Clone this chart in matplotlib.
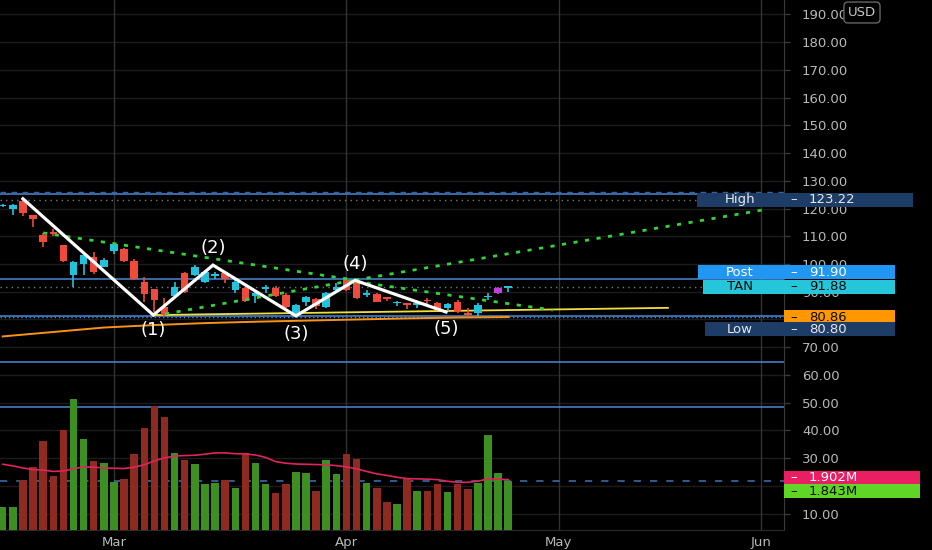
import matplotlib
matplotlib.use("Agg")
import matplotlib.pyplot as plt
from matplotlib.patches import Rectangle
from matplotlib.transforms import IdentityTransform

# ---- data (price in USD, volume in millions) ----
opens = [120.8, 119.7, 122.8, 117.7, 110.5, 111.4, 106.9, 96.0, 100.0, 102.6,
         99.0, 104.8, 105.3, 101.1, 93.6, 91.1, 84.6, 88.5, 96.7, 96.0,
         93.6, 95.8, 96.7, 90.6, 91.3, 88.5, 91.1, 91.3, 88.8, 82.5,
         86.4, 87.3, 84.6, 90.6, 94.2, 93.0, 88.8, 89.1, 87.8, 85.9,
         85.7, 85.4, 86.9, 85.8, 84.0, 86.4, 82.0, 82.2, 88.0, 89.4, 91.5]
closes = [121.2, 121.3, 118.3, 116.1, 108.0, 110.9, 101.1, 100.8, 103.3, 97.0,
          101.4, 107.2, 101.1, 94.6, 89.2, 87.0, 81.6, 91.8, 90.0, 99.0,
          97.2, 96.2, 94.5, 93.6, 86.7, 89.4, 91.4, 88.5, 84.6, 85.2,
          88.0, 84.9, 89.4, 91.8, 90.6, 87.6, 89.4, 86.4, 87.5, 86.2,
          85.4, 85.7, 86.5, 83.4, 85.5, 82.8, 81.8, 85.2, 88.4, 91.3, 91.88]
highs = [121.6, 121.6, 123.22, 117.7, 111.1, 112.6, 106.9, 101.2, 103.6, 104.4,
         102.3, 107.5, 105.7, 101.7, 95.2, 91.1, 87.6, 93.5, 97.2, 99.6,
         97.6, 97.2, 97.0, 94.5, 91.8, 90.6, 92.4, 92.1, 89.7, 85.6,
         88.5, 87.6, 90.0, 93.0, 94.5, 93.6, 90.6, 89.4, 88.2, 86.7,
         86.0, 86.1, 87.6, 86.2, 86.1, 87.0, 84.3, 85.8, 89.4, 91.8, 92.1]
lows = [120.5, 117.7, 117.3, 113.2, 106.2, 110.2, 100.8, 91.6, 96.0, 96.4,
        98.8, 103.6, 100.8, 94.2, 86.4, 82.8, 81.3, 87.8, 89.7, 95.7,
        93.0, 94.5, 93.0, 89.4, 86.4, 86.1, 89.7, 88.2, 84.0, 81.3,
        84.9, 83.7, 84.0, 90.0, 90.4, 87.3, 88.2, 86.2, 86.7, 85.0,
        83.8, 84.3, 85.5, 83.1, 83.1, 82.2, 80.8, 81.4, 87.0, 89.1, 89.8]
ext_hours_bar = 49

volumes = [0.85, 0.86, 1.90, 2.37, 3.37, 2.03, 3.78, 4.94, 3.43, 2.62,
           2.52, 1.80, 1.94, 2.88, 3.85, 4.69, 4.26, 2.89, 2.63, 2.49,
           1.73, 1.77, 1.89, 1.60, 2.91, 2.53, 1.72, 1.39, 1.73, 2.17,
           2.16, 1.49, 2.66, 2.12, 2.86, 2.68, 1.77, 1.58, 1.07, 1.00,
           1.93, 1.47, 1.49, 1.72, 1.42, 1.74, 1.53, 1.78, 3.60, 2.16, 1.843]
vol_ma = [2.48, 2.42, 2.34, 2.28, 2.26, 2.21, 2.23, 2.31, 2.38, 2.37,
          2.34, 2.33, 2.32, 2.37, 2.46, 2.61, 2.72, 2.79, 2.81, 2.82,
          2.86, 2.91, 2.91, 2.88, 2.87, 2.83, 2.74, 2.58, 2.52, 2.49,
          2.48, 2.47, 2.46, 2.43, 2.38, 2.31, 2.21, 2.12, 2.06, 1.99,
          1.94, 1.93, 1.92, 1.90, 1.84, 1.80, 1.80, 1.84, 1.93, 1.92, 1.902]

# long moving average (orange), read every 5 bars
ma_bars = [0, 5, 10, 15, 20, 25, 30, 35, 40, 45, 50]
ma_vals = [73.9, 75.5, 77.1, 78.0, 78.7, 79.2, 79.6, 80.0, 80.4, 80.7, 80.86]

# drawings
wave_bars = [2, 14.9, 20.8, 29.0, 34.85, 43.85]
wave_prices = [123.5, 81.6, 99.6, 81.3, 94.1, 82.7]
wave_labels = ["(1)", "(2)", "(3)", "(4)", "(5)"]
dotted_lines = [
    ([4.0, 34.85], [111.2, 94.2]),
    ([34.85, 75.7], [94.2, 119.8]),
    ([16.05, 34.85], [82.0, 94.2]),
    ([34.85, 54.4], [93.7, 83.4]),
]
yellow_bars = [14.9, 65.8]
yellow_prices = [81.6, 84.2]
blue_levels = [125.2, 94.5, 81.3, 64.7, 48.4]
blue_dashed_level = 126.0

month_bars = [11, 34, 55, 75]
month_names = ["Mar", "Apr", "May", "Jun"]

price_ticks = list(range(10, 200, 10))
hidden_tick_labels = [20, 80]   # covered by the tags in the reference

high_val, post_val, last_val, ma_last, low_val = 123.22, 91.90, 91.88, 80.86, 80.80

# ---- colours ----
BG = "black"
UP, DOWN, EXT = "#22c1dc", "#ef4b3c", "#c23fe0"
VUP, VDOWN = "#3d8f22", "#8e2a20"
GRID = "#1c1c1c"
VGRID = "#333333"
BLUE = "#4a8ad8"
TXT = "#b8b8b8"

fig = plt.figure(figsize=(9.32, 5.5), dpi=100, facecolor=BG)
rect = [0, 20 / 550, 784 / 932, 530 / 550]
ax = fig.add_axes(rect, facecolor=BG)
axv = fig.add_axes(rect, facecolor="none", zorder=ax.get_zorder() + 1)

xlim = (-0.27, 77.28)
ax.set_xlim(*xlim)
ax.set_ylim(4.14, 195.14)
axv.set_xlim(*xlim)
axv.set_ylim(0, 20)

# grid
for p in price_ticks:
    ax.axhline(p, color=GRID, lw=1, zorder=0)
for b in month_bars:
    ax.axvline(b, color=VGRID, lw=1, zorder=0)

# horizontal levels
for lv in blue_levels:
    ax.axhline(lv, color=BLUE, lw=1.1, zorder=1)
ax.axhline(blue_dashed_level, color="#35639c", lw=1, ls=(0, (4, 4)), zorder=1)
ax.axhline(high_val, color="#707a88", lw=1, ls=(0, (1, 3)), zorder=1)
ax.axhline(last_val, color="#707a88", lw=1, ls=(0, (1, 3)), zorder=1)
ax.axhline(ma_last, color=BLUE, lw=1, ls=(0, (1, 2)), zorder=1)

# orange MA and yellow trend line
ax.plot(ma_bars, ma_vals, color="#f7931a", lw=1.4, zorder=2)
ax.plot(yellow_bars, yellow_prices, color="#f2e03a", lw=1.3, zorder=2)

# candles
for i in range(len(opens)):
    o, c, h, l = opens[i], closes[i], highs[i], lows[i]
    col = UP if c >= o else DOWN
    if i == ext_hours_bar:
        col = EXT
    ax.vlines(i, l, h, color=col, lw=1.2, zorder=3)
    bot = min(o, c)
    hgt = max(abs(c - o), 0.45)
    ax.bar(i, hgt, bottom=bot, width=0.74, color=col, zorder=3)

# drawings
for xs, ys in dotted_lines:
    ax.plot(xs, ys, color="#33d13a", lw=2, ls=(0, (1.5, 2.7)), zorder=4)
ax.plot(wave_bars, wave_prices, color="white", lw=2.3, zorder=5,
        solid_joinstyle="miter")
label_dy = [-15, 17, -18, 16, -17]
for k, lab in enumerate(wave_labels):
    ax.annotate(lab, (wave_bars[k + 1], wave_prices[k + 1]),
                xytext=(0, label_dy[k]), textcoords="offset pixels",
                ha="center", va="center", color="white", fontsize=13, zorder=6)

# volume
vcols = [VUP if closes[i] >= opens[i] else VDOWN for i in range(len(volumes))]
axv.bar(range(len(volumes)), volumes, width=0.74, color=vcols, zorder=2)
axv.plot(range(len(vol_ma)), vol_ma, color="#e0245e", lw=1.2, zorder=3)
axv.axhline(volumes[-1], color="#35639c", lw=1.3, ls=(0, (4, 5)), zorder=1)

# axes styling
for a in (ax, axv):
    for s in a.spines.values():
        s.set_visible(False)
axv.set_xticks([])
axv.set_yticks([])
ax.spines["right"].set_visible(True)
ax.spines["right"].set_color("#3a3a3a")
ax.spines["bottom"].set_visible(True)
ax.spines["bottom"].set_color("#2a2a2a")
ax.yaxis.tick_right()
ax.set_yticks(price_ticks)
ax.set_yticklabels(["" if p in hidden_tick_labels else f"{p:.2f}" for p in price_ticks])
ax.tick_params(axis="y", colors="#3a3a3a", length=4, width=1, pad=9,
               labelcolor=TXT, labelsize=9.5)
ax.set_xticks(month_bars)
ax.set_xticklabels(month_names)
ax.tick_params(axis="x", length=0, pad=4, labelcolor=TXT, labelsize=9.5)


# price / volume tags on the right scale
def tag(y, x0, x1, fc, value, tc, name=None):
    fig.add_artist(Rectangle((x0, y - 7), x1 - x0, 14, transform=IdentityTransform(),
                             facecolor=fc, edgecolor="none", zorder=10))
    kw = dict(transform=IdentityTransform(), va="center", color=tc,
              fontsize=9.5, zorder=11)
    if name:
        fig.text(740, y, name, ha="center", **kw)
    fig.text(790, y, "–", ha="left", **kw)
    fig.text(809, y, value, ha="left", **kw)


def py(v, a=ax):
    return a.transData.transform((0, v))[1]


NAVY = "#1e3d66"
tag(py(high_val), 697, 913, NAVY, f"{high_val:.2f}", "#e8e8e8", "High")
tag(py(post_val) + 14, 698, 895, "#2196f3", f"{post_val:.2f}", "white", "Post")
tag(py(last_val), 703, 895, "#26c6da", f"{last_val:.2f}", "#0a0a0a", "TAN")
tag(py(ma_last), 784, 895, "#ff9800", f"{ma_last:.2f}", "#0a0a0a")
tag(py(low_val) - 12, 705, 895, NAVY, f"{low_val:.2f}", "#e8e8e8", "Low")
tag(py(vol_ma[-1], axv) + 2, 784, 920, "#e91e63", f"{vol_ma[-1]:.3f}M", "white")
tag(py(volumes[-1], axv) - 10, 784, 920, "#5fd626", f"{volumes[-1]:.3f}M", "#0a0a0a")

fig.text(862, 550 - 12.5, "USD", transform=IdentityTransform(), ha="center",
         va="center", color="#c8c8c8", fontsize=9.5, zorder=11,
         bbox=dict(boxstyle="round,pad=0.3", facecolor="black", edgecolor="#666666"))

fig.savefig("out.png", dpi=100, facecolor=BG)
